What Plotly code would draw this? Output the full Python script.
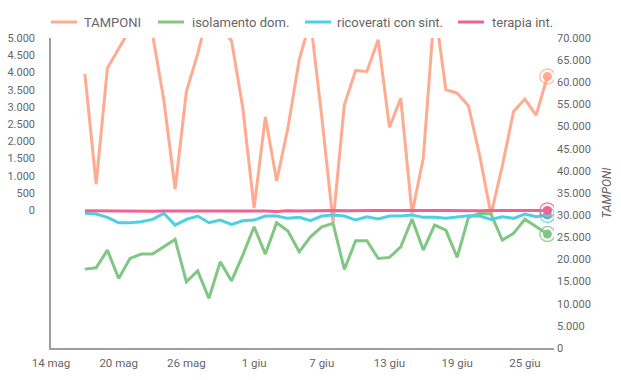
import pandas as pd
import plotly.graph_objects as go

dates = pd.date_range("2020-05-17", "2020-06-27", freq="D")

tamponi = [61900, 37000, 63200, 67500, 72000, 75000, 70800, 56000, 35900, 57900,
           66400, 76500, 72200, 69400, 54200, 31600, 52200, 37700, 49700, 65100,
           74000, 52200, 28400, 54900, 62650, 62430, 69600, 49850, 56400, 30400,
           42900, 77000, 58300, 57550, 54700, 43400, 30100, 41100, 53400, 56200,
           52600, 61300]

isolamento = [-1710, -1673, -1158, -1981, -1399, -1274, -1274, -1062, -847, -2080,
              -1760, -2560, -1498, -2051, -1303, -480, -1274, -364, -605, -1207,
              -771, -480, -381, -1719, -887, -887, -1399, -1370, -1062, -256,
              -1158, -431, -576, -1370, -207, -90, -111, -867, -672, -265,
              -480, -692]

ricoverati = [-90, -111, -207, -364, -364, -335, -265, -90, -431, -265,
              -169, -364, -285, -410, -305, -285, -169, -169, -236, -207,
              -305, -169, -140, -169, -285, -189, -256, -169, -169, -140,
              -207, -207, -236, -207, -160, -169, -265, -189, -236, -111,
              -189, -140]

terapia = [-15, -20, -25, -30, -30, -25, -30, -25, -20, -20,
           -15, -20, -25, -20, -15, -10, -20, -35, -15, -20,
           -10, -15, -10, -15, -20, -10, -10, -5, -10, -15,
           -15, -10, -5, -15, -10, -15, -10, -10, -5, -10,
           -10, -5]

series_names = ["TAMPONI", "isolamento dom.", "ricoverati con sint.", "terapia int."]

tick_dates = ["2020-05-14", "2020-05-20", "2020-05-26", "2020-06-01",
              "2020-06-07", "2020-06-13", "2020-06-19", "2020-06-25"]
tick_text = ["14 mag", "20 mag", "26 mag", "1 giu", "7 giu", "13 giu", "19 giu", "25 giu"]

left_ticks = list(range(0, 5001, 500))
right_ticks = list(range(0, 70001, 5000))

C_T = "#FFAB91"
C_I = "#81C784"
C_R = "#4DD0E1"
C_P = "#F06292"

W, H = 621, 380
ML, MR, MT, MB = 51, 67, 38, 32
PW, PH = W - ML - MR, H - MT - MB

fig = go.Figure()

series = [
    (series_names[0], tamponi, C_T, "y"),
    (series_names[1], isolamento, C_I, "y2"),
    (series_names[2], ricoverati, C_R, "y2"),
    (series_names[3], terapia, C_P, "y2"),
]

for name, vals, col, ax in series:
    fig.add_trace(go.Scatter(x=dates, y=vals, name=name, mode="lines",
                             line=dict(color=col, width=3), yaxis=ax, showlegend=False))

for name, vals, col, ax in series:
    fig.add_trace(go.Scatter(x=[dates[-1]], y=[vals[-1]], mode="markers", yaxis=ax,
                             showlegend=False, hoverinfo="skip",
                             marker=dict(symbol="circle-open", size=15, color=col, opacity=0.75,
                                         line=dict(color=col, width=1.5))))
    fig.add_trace(go.Scatter(x=[dates[-1]], y=[vals[-1]], mode="markers", yaxis=ax,
                             showlegend=False, hoverinfo="skip",
                             marker=dict(symbol="circle", size=9, color=col,
                                         line=dict(width=0))))

# custom legend (line symbol + text), positions in pixels
leg_line_px = [51, 158, 305, 458]
leg_text_px = [82, 190, 335, 490]
leg_y_px = 22
shapes = []
annotations = []
for (name, vals, col, ax), lx, tx in zip(series, leg_line_px, leg_text_px):
    yp = (H - MB - leg_y_px) / PH
    shapes.append(dict(type="line", xref="paper", yref="paper",
                       x0=(lx - ML) / PW, x1=(lx + 26 - ML) / PW, y0=yp, y1=yp,
                       line=dict(color=col, width=3)))
    annotations.append(dict(xref="paper", yref="paper", x=(tx - ML) / PW, y=yp,
                            xanchor="left", yanchor="middle", showarrow=False,
                            text=name, font=dict(size=13, color="#666666")))

fig.update_layout(
    width=W, height=H,
    margin=dict(l=ML, r=MR, t=MT, b=MB, autoexpand=False),
    paper_bgcolor="white", plot_bgcolor="white",
    separators=",.",
    font=dict(family="Roboto", size=11, color="#666666"),
    showlegend=False,
    shapes=shapes, annotations=annotations,
    xaxis=dict(type="date", range=["2020-05-14", "2020-06-27 14:00"],
               tickvals=tick_dates, ticktext=tick_text, showgrid=False,
               zeroline=False, showline=True, linecolor="#9e9e9e", linewidth=1.5,
               ticks="", ticklabelstandoff=3, tickfont=dict(size=11.5, color="#666666")),
    yaxis=dict(side="right", range=[0, 70000], tickvals=right_ticks, tickformat=",d",
               showgrid=False, zeroline=False, showline=False, ticks="",
               ticklabelstandoff=2,
               title=dict(text="<i>TAMPONI</i>", font=dict(size=12, color="#666666"),
                          standoff=12),
               tickfont=dict(size=11, color="#666666")),
    yaxis2=dict(side="left", overlaying="y", range=[-4000, 5000], tickvals=left_ticks,
                tickformat=",d", showgrid=False, zeroline=False, showline=True,
                linecolor="#9e9e9e", linewidth=1.5, ticks="", ticklabelstandoff=12,
                tickfont=dict(size=11, color="#666666")),
)

fig.write_html("out.html",
               config={"displayModeBar": False},
               post_script="document.body.style.margin='0';document.body.style.padding='0';")
